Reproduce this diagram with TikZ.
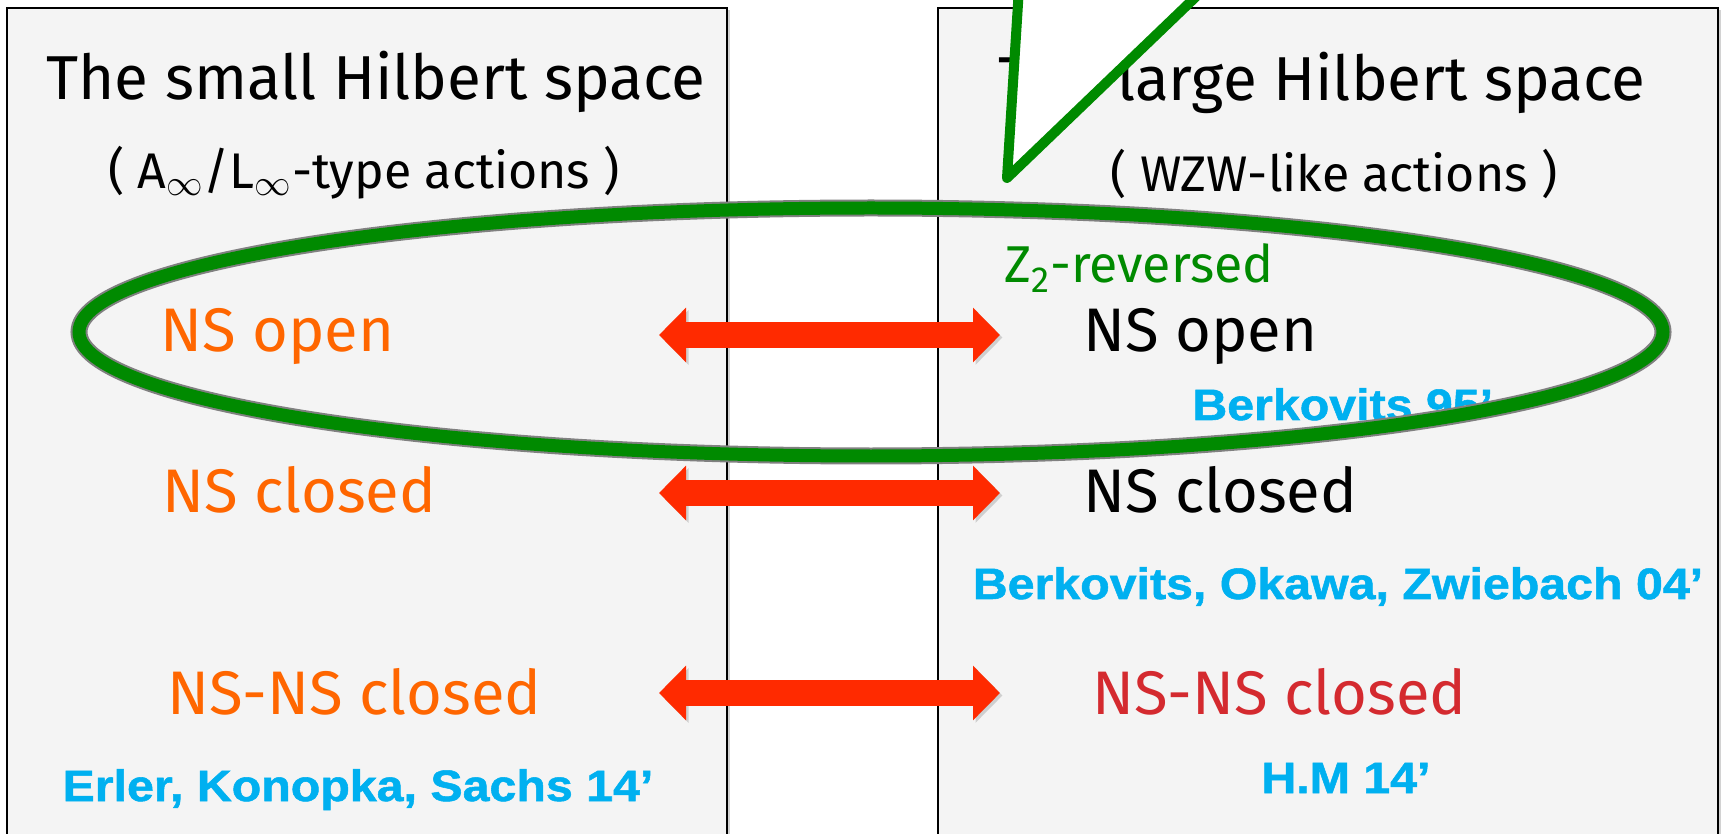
\documentclass[tikz,border=0pt]{standalone}
\usepackage{fontspec}
\setmainfont{Fira Sans}
\newfontfamily\citefont[FakeStretch=1.1,BoldFeatures={FakeBold=1.2}]{Liberation Sans}
\usetikzlibrary{arrows.meta,shadows}

\definecolor{panelgray}{HTML}{F4F4F4}
\definecolor{ringgreen}{HTML}{008A00}
\definecolor{nsorange}{HTML}{FF6600}
\definecolor{nsred}{HTML}{D42A2F}
\definecolor{citeblue}{HTML}{00B0F0}
\definecolor{arrowred}{HTML}{FF2A00}

\tikzset{
  panel/.style={draw=black,line width=.05cm,fill=panelgray,
    drop shadow={shadow xshift=.06cm,shadow yshift=-.04cm,opacity=.35}},
  title/.style={anchor=base,font=\fontsize{35.3}{40}\selectfont,inner sep=0},
  subtitle/.style={anchor=base,font=\fontsize{28.5}{34}\selectfont,inner sep=0},
  entry/.style={anchor=base west,font=\fontsize{35}{40}\selectfont,inner sep=0},
  cite/.style={anchor=base,text=citeblue,font=\citefont\bfseries\fontsize{25}{30}\selectfont,inner sep=0},
  bigarrow/.style={arrowred,line width=.54cm,
    {Triangle[length=.54cm,width=1.06cm]}-{Triangle[length=.54cm,width=1.06cm]},
    preaction={draw=black!45,opacity=.35,transform canvas={shift={(.05cm,-.05cm)}}}},
}

\begin{document}
\begin{tikzpicture}[x=.02cm,y=.02cm]
  \useasboundingbox (0,0) rectangle (1725,-834);
  \clip (0,0) rectangle (1725,-834);
  \fill[white] (0,0) rectangle (1725,-834);

  % the two spaces
  \draw[panel] (7,-8) rectangle (727,-860);
  \draw[panel] (938,-8) rectangle (1718,-860);

  \node[title] (smalltitle) at (376,-100) {The small Hilbert space};
  \node[subtitle] (smallsub) at (364,-189) {( A\textsubscript{$\infty$}/L\textsubscript{$\infty$}-type actions )};
  \node[title] (largetitle) at (1322,-101) {The large Hilbert space};
  \node[subtitle] (largesub) at (1334,-192) {( WZW-like actions )};

  % tail of the speech bubble
  \draw[ringgreen,line width=.2cm,line join=round,fill=white]
    (1019,12) -- (1007,-178) -- (1205,12);

  \node[entry,text=ringgreen,font=\fontsize{29.5}{34}\selectfont] (zrev) at (1004,-283) {Z\textsubscript{2}-reversed};

  % left column
  \node[entry,text=nsorange] (sopen) at (160,-352) {NS open};
  \node[entry,text=nsorange] (sclosed) at (162,-513) {NS closed};
  \node[entry,text=nsorange] (snsns) at (167,-714) {NS-NS closed};
  \node[cite] (ekscite) at (358,-801) {Erler, Konopka, Sachs 14’};

  % right column
  \node[entry] (lopen) at (1083,-352) {NS open};
  \node[cite,anchor=base west] (b95cite) at (1192,-420) {Berkovits 95’};
  \node[entry] (lclosed) at (1083,-513) {NS closed};
  \node[cite] (bozcite) at (1338,-599) {Berkovits, Okawa, Zwiebach 04’};
  \node[entry,text=nsred] (lnsns) at (1092,-714) {NS-NS closed};
  \node[cite] (hmcite) at (1346,-793) {H.M 14’};

  % equivalences
  \coordinate (openL) at (659,-335);
  \coordinate (openR) at (1000,-335);
  \coordinate (closedL) at (659,-493);
  \coordinate (closedR) at (1000,-493);
  \coordinate (nsnsL) at (659,-693);
  \coordinate (nsnsR) at (1000,-693);
  \draw[bigarrow] (openL) -- (openR);
  \draw[bigarrow] (closedL) -- (closedR);
  \draw[bigarrow] (nsnsL) -- (nsnsR);

  % ring round the open string row
  \draw[gray,line width=.34cm] (871,-332) ellipse [x radius=792,y radius=124];
  \draw[ringgreen,line width=.26cm] (871,-332) ellipse [x radius=792,y radius=124];
\end{tikzpicture}
\end{document}
